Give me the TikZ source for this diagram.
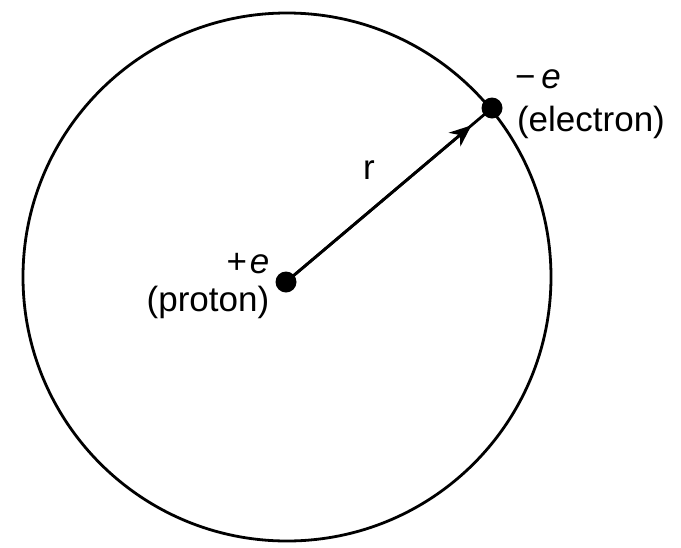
\documentclass[tikz,border=0pt]{standalone}
\usepackage{fontspec}
\setmainfont{Liberation Sans}
\usetikzlibrary{arrows.meta,calc}
\begin{document}
\begin{tikzpicture}[x=1pt,y=-1pt,
  lbl/.style={inner sep=0pt,font=\fontsize{35}{38}\selectfont},
  charge/.style={circle,fill=black,inner sep=0pt,minimum size=21pt}]
\useasboundingbox (0,0) rectangle (681,547);
\draw[line width=2.8pt] (287,277) circle[radius=264];
\node[charge] (p) at (286,282) {};
\node[charge] (el) at (492,108) {};
\coordinate (tip) at ($(p.center)!0.9!(el.center)$);
\draw[line width=2.8pt] (p.center) -- (el.center);
\draw[line width=2.8pt,-{Stealth[length=22pt,width=18pt,inset=7pt]}] (p.center) -- (tip);
\node[lbl] (r) at (369,170) {r};
\node[lbl] (pe) at (248,264) {+\kern3pt\textit{e}};
\node[lbl] (pl) at (208,302) {(proton)};
\node[lbl] (ee) at (538,79) {−\kern6pt\textit{e}};
\node[lbl] (el2) at (591,122) {(electron)};
\end{tikzpicture}
\end{document}
